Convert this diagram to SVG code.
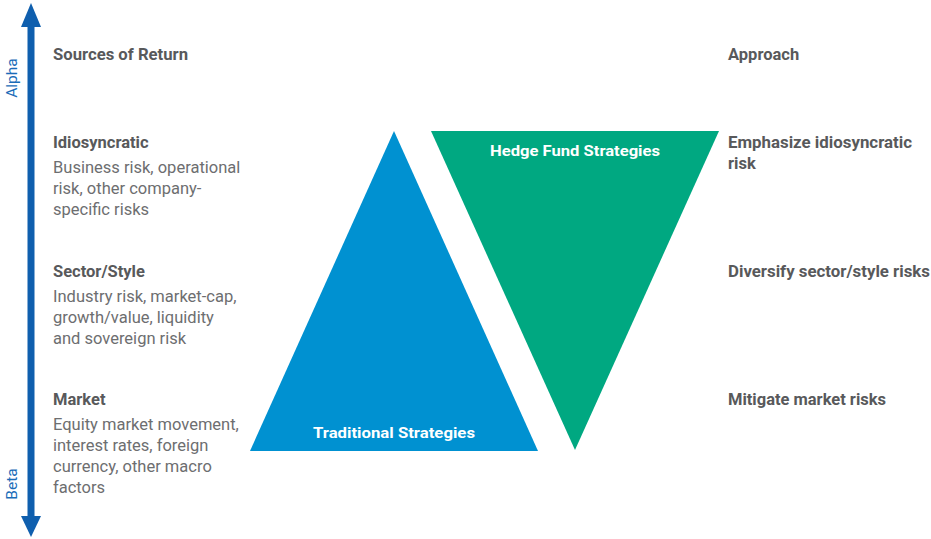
<svg xmlns="http://www.w3.org/2000/svg" width="931" height="539" viewBox="0 0 931 539">
<style>
.h{font-family:Roboto,"Liberation Sans",sans-serif;font-weight:bold;font-size:16.5px;fill:#58595b}
.b{font-family:Roboto,"Liberation Sans",sans-serif;font-size:16.5px;fill:#6d6e70}
.w{font-family:Roboto,"Liberation Sans",sans-serif;font-weight:bold;font-size:15px;fill:#ffffff;text-anchor:middle}
.ax{font-family:Roboto,"Liberation Sans",sans-serif;font-size:15.5px;fill:#1a6cb8;text-anchor:middle}
</style>
<rect width="931" height="539" fill="#ffffff"/>
<g id="axis">
<rect x="27.5" y="25" width="7" height="494" fill="#0f5fae"/>
<polygon points="31,3 41,27 21,27" fill="#0f5fae"/>
<polygon points="31,537 41,516 21,516" fill="#0f5fae"/>
<text class="ax" transform="translate(17,78) rotate(-90)">Alpha</text>
<text class="ax" transform="translate(17,484) rotate(-90)">Beta</text>
</g>
<g id="traditional">
<polygon points="394,131 538,451 250,451" fill="#0091d1"/>
<text class="w" x="394" y="438" textLength="162" lengthAdjust="spacingAndGlyphs">Traditional Strategies</text>
</g>
<g id="hedge">
<polygon points="431,131 719,131 575,450" fill="#00a881"/>
<text class="w" x="575" y="156" textLength="170" lengthAdjust="spacingAndGlyphs">Hedge Fund Strategies</text>
</g>
<g id="sources">
<text class="h" x="53" y="60" textLength="135" lengthAdjust="spacingAndGlyphs">Sources of Return</text>
</g>
<g id="idiosyncratic">
<text class="h" x="53" y="148">Idiosyncratic</text>
<text class="b" x="53" y="173">Business risk, operational</text>
<text class="b" x="53" y="194">risk, other company-</text>
<text class="b" x="53" y="215">specific risks</text>
</g>
<g id="sector">
<text class="h" x="53" y="277">Sector/Style</text>
<text class="b" x="53" y="302">Industry risk, market-cap,</text>
<text class="b" x="53" y="323">growth/value, liquidity</text>
<text class="b" x="53" y="344">and sovereign risk</text>
</g>
<g id="market">
<text class="h" x="53" y="405">Market</text>
<text class="b" x="53" y="430">Equity market movement,</text>
<text class="b" x="53" y="451">interest rates, foreign</text>
<text class="b" x="53" y="472">currency, other macro</text>
<text class="b" x="53" y="493">factors</text>
</g>
<g id="approach">
<text class="h" x="728" y="60">Approach</text>
</g>
<g id="emphasize">
<text class="h" x="728" y="148" textLength="184" lengthAdjust="spacingAndGlyphs">Emphasize idiosyncratic</text>
<text class="h" x="728" y="169">risk</text>
</g>
<g id="diversify">
<text class="h" x="728" y="277" textLength="202" lengthAdjust="spacingAndGlyphs">Diversify sector/style risks</text>
</g>
<g id="mitigate">
<text class="h" x="728" y="405" textLength="158" lengthAdjust="spacingAndGlyphs">Mitigate market risks</text>
</g>
<g id="connectors"></g>
</svg>
